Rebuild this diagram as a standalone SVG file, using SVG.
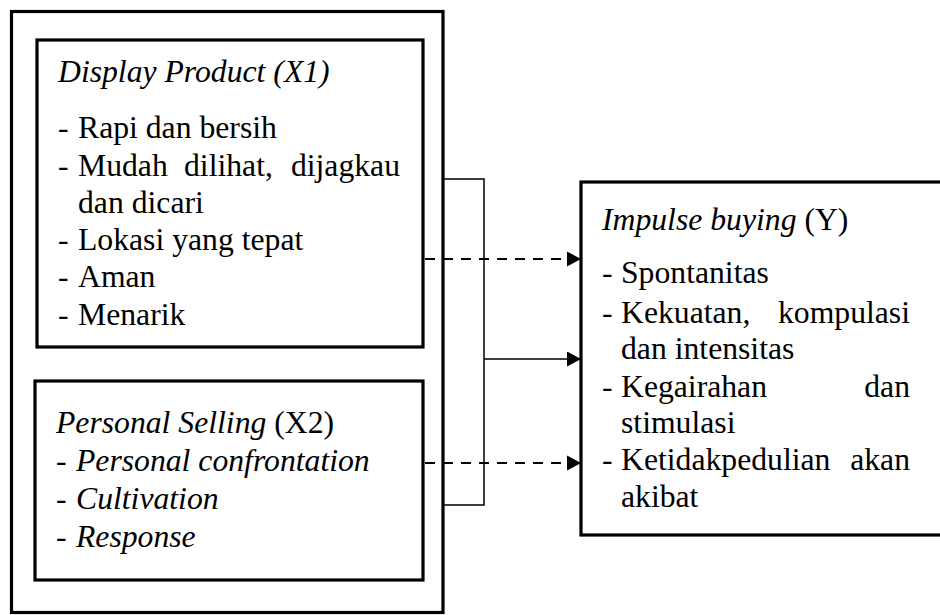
<svg xmlns="http://www.w3.org/2000/svg" width="940" height="615" viewBox="0 0 940 615">
<style>
text{font-family:"Liberation Serif","Times New Roman",serif;font-size:31.7px;fill:#000}
.i{font-style:italic}
.box{fill:none;stroke:#000;stroke-width:3.2}
.thin{fill:none;stroke:#000;stroke-width:1.5}
.dash{fill:none;stroke:#000;stroke-width:2;stroke-dasharray:10 8}
</style>
<defs>
<marker id="ah" markerWidth="14" markerHeight="15" refX="14" refY="7.5" orient="auto" markerUnits="userSpaceOnUse">
<path d="M0,0 L14,7.5 L0,15 Z" fill="#000"/>
</marker>
</defs>
<rect width="940" height="615" fill="#fff"/>
<g id="outer"><rect class="box" x="11.5" y="11.5" width="431.5" height="601"/></g>
<g id="x1">
<rect class="box" x="37" y="40" width="386" height="307"/>
<text class="i" x="58" y="82">Display Product (X1)</text>
<text x="58" y="138">-</text><text x="78" y="138">Rapi dan bersih</text>
<text x="58" y="176">-</text><text x="78" y="176">Mudah</text><text x="184" y="176">dilihat,</text><text x="400" y="176" text-anchor="end">dijagkau</text>
<text x="78" y="213">dan dicari</text>
<text x="58" y="250">-</text><text x="78" y="250">Lokasi yang tepat</text>
<text x="58" y="287">-</text><text x="78" y="287">Aman</text>
<text x="58" y="325">-</text><text x="78" y="325">Menarik</text>
</g>
<g id="x2">
<rect class="box" x="35" y="381" width="388" height="199"/>
<text x="56" y="433"><tspan class="i">Personal Selling</tspan> (X2)</text>
<text x="56" y="471">-</text><text class="i" x="76" y="471">Personal confrontation</text>
<text x="56" y="509">-</text><text class="i" x="76" y="509">Cultivation</text>
<text x="56" y="547">-</text><text class="i" x="76" y="547">Response</text>
</g>
<g id="y">
<rect class="box" x="581" y="182" width="400" height="353"/>
<text x="602" y="230"><tspan class="i">Impulse buying</tspan> (Y)</text>
<text x="602" y="283">-</text><text x="621" y="283">Spontanitas</text>
<text x="602" y="323">-</text><text x="621" y="323">Kekuatan,</text><text x="910" y="323" text-anchor="end">kompulasi</text>
<text x="621" y="359">dan intensitas</text>
<text x="602" y="397">-</text><text x="621" y="397">Kegairahan</text><text x="910" y="397" text-anchor="end">dan</text>
<text x="621" y="433">stimulasi</text>
<text x="602" y="470">-</text><text x="621" y="470">Ketidakpedulian</text><text x="910" y="470" text-anchor="end">akan</text>
<text x="621" y="507">akibat</text>
</g>
<g id="connectors">
<polyline class="thin" points="443,179 484,179 484,505 443,505"/>
<line class="thin" x1="484" y1="359" x2="581" y2="359" marker-end="url(#ah)"/>
<line class="dash" x1="425" y1="259" x2="570" y2="259"/>
<line class="dash" x1="425" y1="463" x2="570" y2="463"/>
<path d="M567,251.5 L581,259 L567,266.5 Z" fill="#000"/>
<path d="M567,455.5 L581,463 L567,470.5 Z" fill="#000"/>
</g>
</svg>
